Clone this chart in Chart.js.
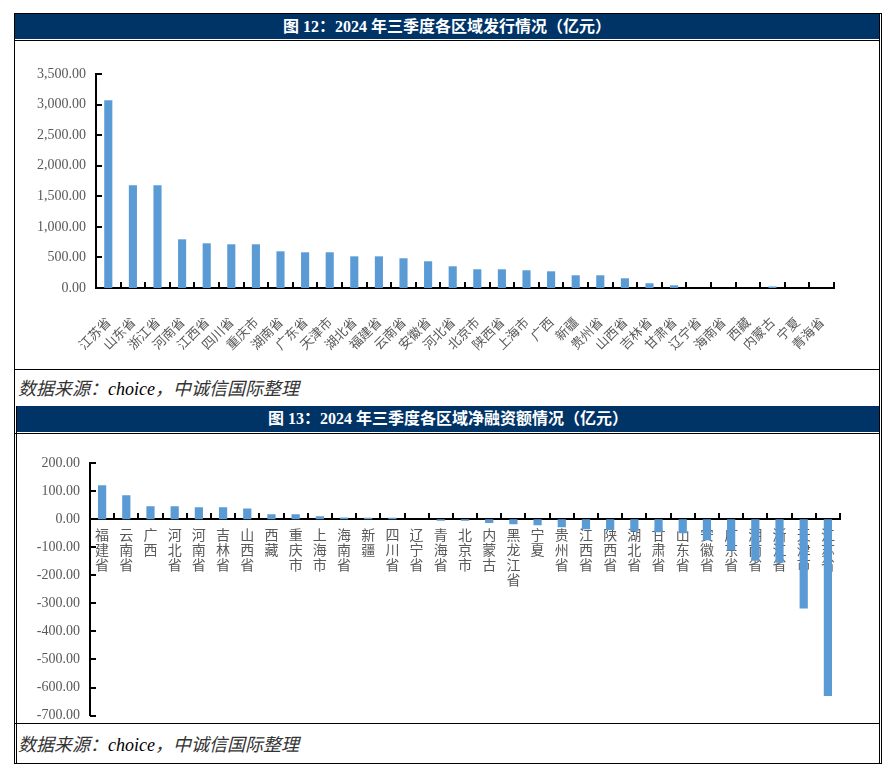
<!DOCTYPE html>
<html>
<head>
<meta charset="utf-8">
<script src="https://cdn.jsdelivr.net/npm/chart.js@4.4.1/dist/chart.umd.min.js"></script>
<style>
  body { margin: 0; background: #fff; width: 895px; height: 772px; position: relative; overflow: hidden; }
  .abs { position: absolute; }
  .band { background: #003366; color: #fff; text-align: center; font: bold 16px "Liberation Serif", "Noto Sans CJK SC", serif; }
  .src { font: italic 18px "Liberation Serif", "Noto Sans CJK SC", serif; color: #333; }
  .src b { font-weight: normal; color: #000; }
</style>
</head>
<body>
  <!-- frame lines -->
  <div class="abs" style="left:14px;top:13px;width:1px;height:393px;background:#000"></div>
  <div class="abs" style="left:879px;top:13px;width:1px;height:393px;background:#000"></div>
  <div class="abs" style="left:881px;top:13px;width:1px;height:393px;background:#000"></div>
  <div class="abs" style="left:14px;top:13px;width:868px;height:1px;background:#000"></div>
  <div class="abs band" style="left:15px;top:14px;width:864px;height:25px;line-height:25px">图 12：2024 年三季度各区域发行情况（亿元）</div>
  <div class="abs" style="left:14px;top:40px;width:866px;height:1px;background:#000"></div>
  <div class="abs" style="left:14px;top:369px;width:866px;height:1px;background:#000"></div>
  <div class="abs src" style="left:18px;top:374px">数据来源：<b>choice</b>，中诚信国际整理</div>

  <div class="abs" style="left:14px;top:406px;width:1px;height:358px;background:#000"></div>
  <div class="abs" style="left:16px;top:406px;width:1px;height:358px;background:#000"></div>
  <div class="abs" style="left:879px;top:406px;width:1px;height:358px;background:#000"></div>
  <div class="abs" style="left:881px;top:406px;width:1px;height:358px;background:#000"></div>
  <div class="abs band" style="left:17px;top:406px;width:862px;height:26px;line-height:26px">图 13：2024 年三季度各区域净融资额情况（亿元）</div>
  <div class="abs" style="left:14px;top:433px;width:866px;height:1px;background:#000"></div>
  <div class="abs" style="left:14px;top:723px;width:866px;height:1px;background:#000"></div>
  <div class="abs src" style="left:18px;top:730px">数据来源：<b>choice</b>，中诚信国际整理</div>
  <div class="abs" style="left:14px;top:763px;width:868px;height:1px;background:#000"></div>

  <canvas id="chart1" class="abs" style="left:15px;top:41px" width="864" height="328"></canvas>
  <canvas id="chart2" class="abs" style="left:15px;top:434px" width="864" height="300"></canvas>

<script>
// 图12：各区域发行情况（亿元）
const issueRegions = ['江苏省','山东省','浙江省','河南省','江西省','四川省','重庆市','湖南省','广东省','天津市',
  '湖北省','福建省','云南省','安徽省','河北省','北京市','陕西省','上海市','广西','新疆',
  '贵州省','山西省','吉林省','甘肃省','辽宁省','海南省','西藏','内蒙古','宁夏','青海省'];
const issueValues = [3070,1680,1680,796,731,715,715,600,584,584,
  518,518,486,437,355,306,306,290,273,208,
  208,159,77,44,0,0,0,25,0,0];
const issueTicks = { min: 0, max: 3500, step: 500 };

// 图13：各区域净融资额情况（亿元）
const netRegions = ['福建省','云南省','广西','河北省','河南省','吉林省','山西省','西藏','重庆市','上海市',
  '海南省','新疆','四川省','辽宁省','青海省','北京市','内蒙古','黑龙江省','宁夏','贵州省',
  '江西省','陕西省','湖北省','甘肃省','山东省','安徽省','广东省','湖南省','浙江省','天津市','江苏省'];
const netValues = [121,85,46,46,42,42,38,17,17,10,
  6,5,5,0,-6,-6,-14,-18,-22,-29,
  -36,-39,-43,-47,-50,-75,-112,-148,-155,-318,-630];
const netTicks = { min: -700, max: 200, step: 100 };

const barColor = '#5B9BD5';
const labelColor = '#595959';
const numFont = { family: '"Liberation Serif", serif', size: 14 };
const cjkFont = { family: '"Noto Sans CJK SC", sans-serif', size: 13 };

const fmt = v => Number(v).toLocaleString('en-US', { minimumFractionDigits: 2, maximumFractionDigits: 2 });

// short tick marks pointing into the plot, like the Excel original
const innerTicks = {
  id: 'innerTicks',
  afterDraw(chart) {
    const { ctx, scales: { x, y } } = chart;
    const n = chart.data.labels.length;
    const step = (x.right - x.left) / n;
    const y0 = Math.round(y.getPixelForValue(0));
    ctx.save();
    ctx.strokeStyle = '#000';
    ctx.lineWidth = 2;
    ctx.beginPath();
    for (let i = 1; i <= n; i++) {
      const px = Math.round(x.left + i * step);
      ctx.moveTo(px, y0);
      ctx.lineTo(px, y0 - 6);
    }
    y.ticks.forEach(t => {
      const py = Math.round(y.getPixelForValue(t.value));
      ctx.moveTo(x.left, py);
      ctx.lineTo(x.left + 6, py);
    });
    ctx.stroke();
    ctx.restore();
  }
};

const common = {
  responsive: false,
  animation: false,
  plugins: { legend: { display: false }, tooltip: { enabled: false } }
};

new Chart(document.getElementById('chart1'), {
  type: 'bar',
  data: {
    labels: issueRegions,
    datasets: [{ data: issueValues, backgroundColor: barColor, barPercentage: 0.33, categoryPercentage: 1 }]
  },
  options: {
    ...common,
    layout: { padding: { top: 33, right: 45, bottom: 0, left: 0 } },
    scales: {
      x: {
        grid: { display: false, drawTicks: false },
        border: { display: true, color: '#000', width: 2 },
        ticks: { color: labelColor, font: cjkFont, minRotation: 45, maxRotation: 45, autoSkip: false, padding: 26 },
        afterFit: s => { s.height = 81; }
      },
      y: {
        min: issueTicks.min, max: issueTicks.max,
        grid: { display: false, drawTicks: false },
        border: { display: true, color: '#000', width: 2 },
        ticks: { stepSize: issueTicks.step, color: labelColor, font: numFont, padding: 10, callback: fmt },
        afterFit: s => { s.width = 81; }
      }
    }
  },
  plugins: [innerTicks]
});

new Chart(document.getElementById('chart2'), {
  type: 'bar',
  data: {
    // stacked characters, one per line
    labels: netRegions.map(r => r.split('')),
    datasets: [{ data: netValues, backgroundColor: barColor, barPercentage: 0.34, categoryPercentage: 1 }]
  },
  options: {
    ...common,
    layout: { padding: { top: 29, right: 39, bottom: 0, left: 0 } },
    scales: {
      x: {
        position: { y: 0 },
        z: 1,
        grid: { display: false, drawTicks: false },
        border: { display: true, color: '#000', width: 2 },
        ticks: { color: labelColor, font: { ...cjkFont, size: 14, lineHeight: 1.08 }, maxRotation: 0, minRotation: 0, autoSkip: false, padding: 8 }
      },
      y: {
        min: netTicks.min, max: netTicks.max,
        grid: { display: false, drawTicks: false },
        border: { display: true, color: '#000', width: 2 },
        ticks: { stepSize: netTicks.step, color: labelColor, font: numFont, padding: 10, callback: fmt },
        afterFit: s => { s.width = 75; }
      }
    }
  },
  plugins: [innerTicks]
});
</script>
</body>
</html>
